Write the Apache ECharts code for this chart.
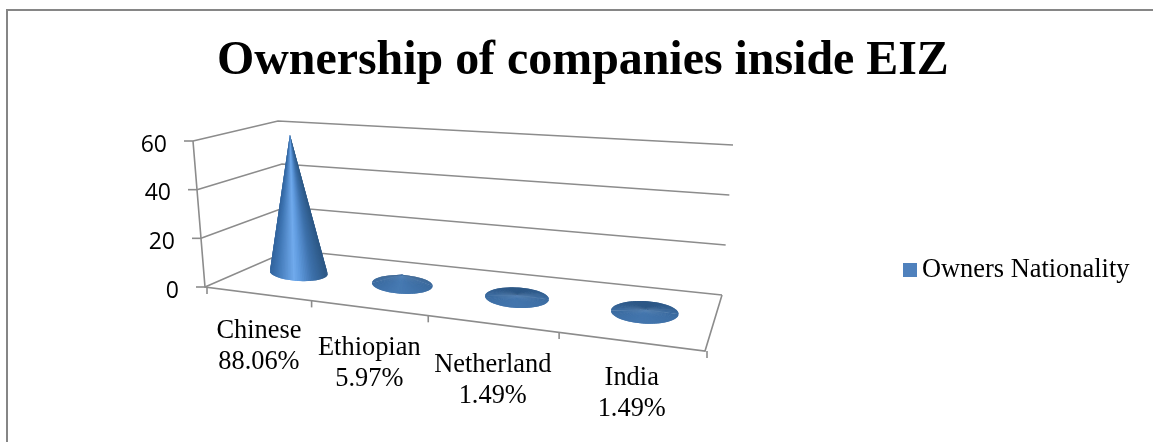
<!DOCTYPE html>
<html>
<head>
<meta charset="utf-8">
<title>Ownership of companies inside EIZ</title>
<script src="https://cdn.jsdelivr.net/npm/echarts@6/dist/echarts.min.js"></script>
<style>
  html, body { margin: 0; padding: 0; background: #fff; }
  #chart { width: 1153px; height: 442px; }
</style>
</head>
<body>
<div id="chart"></div>
<script>
// Chart content
const chartTitle = 'Ownership of companies inside EIZ';
const seriesName = 'Owners Nationality';
const categories = ['Chinese', 'Ethiopian', 'Netherland', 'India'];
const ownerCounts = [59, 4, 1, 1];
const companyTotal = 67;
const yTicks = [0, 20, 40, 60];

// Plot box of the flat cartesian grid, which the 3D view below is built on
const plot = { left: 205, top: 141, width: 500, height: 146 };

// 3D view: floor corners on screen, and the rise of the full value range at each corner
const floor = { fl: [205, 287], fr: [705, 351], br: [722, 295], bl: [290, 250] };
const rise = { fl: [-12, -146], fr: [12, -170], br: [11, -150], bl: [-12, -129] };
const coneDepth = 0.5;
const coneRadius = 30.5;
const coneTilt = 0.05;
const lineColor = '#8c8c8c';
const lineWidth = 1.6;
const serif = '"Liberation Serif", "Times New Roman", serif';

// Vertical nudge of each two-line category label
const labelDrop = [53, 56, 57, 52];

// Square-to-quad homography for the floor plane
const floorMap = (function () {
  const { fl, fr, br, bl } = floor;
  const dx1 = fr[0] - br[0], dx2 = bl[0] - br[0], sx = fl[0] - fr[0] + br[0] - bl[0];
  const dy1 = fr[1] - br[1], dy2 = bl[1] - br[1], sy = fl[1] - fr[1] + br[1] - bl[1];
  const den = dx1 * dy2 - dx2 * dy1;
  const g = (sx * dy2 - dx2 * sy) / den;
  const h = (dx1 * sy - sx * dy1) / den;
  return {
    g, h,
    ax: fr[0] - fl[0] + g * fr[0], bx: bl[0] - fl[0] + h * bl[0], cx: fl[0],
    ay: fr[1] - fl[1] + g * fr[1], by: bl[1] - fl[1] + h * bl[1], cy: fl[1]
  };
})();

function lerp(a, b, k) { return a + (b - a) * k; }

// u: across the categories, w: floor depth, t: share of the value range
function project(u, w, t) {
  const m = floorMap;
  const d = m.g * u + m.h * w + 1;
  const x = (m.ax * u + m.bx * w + m.cx) / d;
  const y = (m.ay * u + m.by * w + m.cy) / d;
  const rx = lerp(lerp(rise.fl[0], rise.fr[0], u), lerp(rise.bl[0], rise.br[0], u), w);
  const ry = lerp(lerp(rise.fl[1], rise.fr[1], u), lerp(rise.bl[1], rise.br[1], u), w);
  return [x + rx * t, y + ry * t];
}

// Turn a pixel of the flat grid into the view's u and t
function viewOf(pixel, sys) {
  return { u: (pixel[0] - sys.x) / sys.width, t: (sys.y + sys.height - pixel[1]) / sys.height };
}

function hexToRgb(h) {
  const n = parseInt(h.slice(1), 16);
  return [(n >> 16) & 255, (n >> 8) & 255, n & 255];
}

function rampColor(stops, p) {
  for (let i = 1; i < stops.length; i++) {
    if (p <= stops[i][0]) {
      const k = (p - stops[i - 1][0]) / (stops[i][0] - stops[i - 1][0]);
      const a = hexToRgb(stops[i - 1][1]), b = hexToRgb(stops[i][1]);
      return a.map((c, j) => lerp(c, b[j], k));
    }
  }
  return hexToRgb(stops[stops.length - 1][1]);
}

const tallRamp = [[0, '#32649d'], [0.12, '#3f75b3'], [0.42, '#70aaec'], [0.52, '#5f9ade'], [0.75, '#3d70aa'], [1, '#2c5784']];
const flatRamp = [[0, '#2b5583'], [0.45, '#3a6a9f'], [1, '#4274ab']];

function wedgeColor(theta, steep) {
  const tall = rampColor(tallRamp, (Math.cos(theta) + 1) / 2);
  const flat = rampColor(flatRamp, (Math.sin(theta) + 1) / 2);
  const c = flat.map((v, j) => Math.round(lerp(v, tall[j], steep)));
  return 'rgb(' + c.join(',') + ')';
}

// Cone: a fan of wedges from the apex round the base ellipse. The back half is
// painted first; each wedge runs under the next so no seams show between them.
function renderCone(params, api) {
  const sys = params.coordSys;
  const v = viewOf(api.coord([api.value(0), api.value(1)]), sys);
  const base = project(v.u, coneDepth, 0);
  const apex = project(v.u, coneDepth, v.t);
  const scale = 1 / (floorMap.g * v.u + floorMap.h * coneDepth + 1);
  const rx = coneRadius * scale;
  const ry = rx * (0.285 + 0.055 * v.u);
  const steep = Math.min(1, v.t * 1.6);
  const half = 48;
  const step = Math.PI / half;
  const rim = a => {
    const ox = rx * Math.cos(a);
    return [base[0] + ox, base[1] + ry * Math.sin(a) + ox * coneTilt];
  };
  const children = [];
  [Math.PI, 0].forEach(start => {
    for (let i = 0; i < half; i++) {
      const a0 = start + i * step;
      const a1 = start + Math.min(i + 2, half) * step;
      children.push({
        type: 'polygon',
        shape: { points: [apex, rim(a0), rim(a1)] },
        style: { fill: wedgeColor(a0 + step / 2, steep) }
      });
    }
  });
  return { type: 'group', children };
}

// One value level: wall lines plus the stub on the value axis
function renderLevel(params, api) {
  const sys = params.coordSys;
  const t = viewOf(api.coord([0, api.value(1)]), sys).t;
  const frontLeft = project(0, 0, t);
  return {
    type: 'group',
    children: [{
      type: 'polyline',
      shape: { points: [frontLeft, project(0, 1, t), project(1, 1, t)] },
      style: { fill: null, stroke: lineColor, lineWidth }
    }, {
      type: 'line',
      shape: { x1: frontLeft[0] - 9, y1: frontLeft[1], x2: frontLeft[0], y2: frontLeft[1] },
      style: { stroke: lineColor, lineWidth }
    }]
  };
}

// Value axis line and the floor's front and right edges
function renderFloorEdges() {
  return {
    type: 'polyline',
    shape: { points: [project(0, 0, 1), project(0, 0, 0), project(1, 0, 0), project(1, 1, 0)] },
    style: { fill: null, stroke: lineColor, lineWidth }
  };
}

// Category boundary ticks hanging off the front edge of the floor
function renderBoundaryTick(params, api) {
  const p = project(api.value(0) / categories.length, 0, 0);
  return {
    type: 'line',
    shape: { x1: p[0] + 2, y1: p[1], x2: p[0] + 2, y2: p[1] + 7 },
    style: { stroke: lineColor, lineWidth }
  };
}

// Two-line category label below the front edge of the floor
function renderCategoryLabel(params, api) {
  const i = api.value(0);
  const u = viewOf(api.coord([i, 0]), params.coordSys).u;
  const p = project(u, 0, 0);
  const share = (api.value(1) / companyTotal * 100).toFixed(2) + '%';
  return {
    type: 'text',
    style: {
      x: p[0] + 3,
      y: p[1] + labelDrop[i],
      text: categories[i] + '\n' + share,
      align: 'center',
      verticalAlign: 'middle',
      font: '26.4px ' + serif,
      lineHeight: 31,
      fill: '#000'
    }
  };
}

const yLabelRich = {};
yTicks.forEach(v => {
  yLabelRich['t' + v] = {
    fontFamily: '"Open Sans"',
    fontSize: 23,
    color: '#000',
    padding: [8, (v / 20) * 4, 0, 0]
  };
});

const chart = echarts.init(document.getElementById('chart'), null, { renderer: 'canvas' });
chart.setOption({
  animation: false,
  backgroundColor: '#fff',
  title: {
    text: chartTitle,
    left: 212,
    top: 33,
    textStyle: { fontFamily: serif, fontWeight: 'bold', fontSize: 47.9, color: '#000' }
  },
  legend: {
    left: 898,
    top: 252,
    data: [{ name: seriesName, icon: 'rect', itemStyle: { color: '#4f81bd' } }],
    itemWidth: 14,
    itemHeight: 14,
    selectedMode: false,
    textStyle: { fontFamily: serif, fontSize: 26.4, color: '#000', padding: [6, 0, 0, 0] }
  },
  grid: plot,
  xAxis: {
    type: 'category',
    data: categories,
    axisLine: { show: false },
    axisTick: { show: false },
    axisLabel: { show: false },
    splitLine: { show: false }
  },
  yAxis: {
    type: 'value',
    min: 0,
    max: 60,
    interval: 20,
    axisLine: { show: false },
    axisTick: { show: false },
    splitLine: { show: false },
    axisLabel: { margin: 26, formatter: v => '{t' + v + '|' + v + '}', rich: yLabelRich }
  },
  graphic: [{
    type: 'polyline',
    silent: true,
    shape: { points: [[7, 442], [7, 10], [1153, 10]] },
    style: { fill: null, stroke: '#868686', lineWidth: 2 }
  }],
  series: [
    {
      type: 'custom', name: 'levels', silent: true, z: 1,
      data: yTicks.map(v => [0, v]), encode: { x: 0, y: 1 }, renderItem: renderLevel
    },
    {
      type: 'custom', name: 'floor', silent: true, z: 1,
      data: [[0, 0]], encode: { x: 0, y: 1 }, renderItem: renderFloorEdges
    },
    {
      type: 'custom', name: 'boundaries', silent: true, z: 1,
      data: [0, 1, 2, 3, 4].map(i => [i]), encode: { x: 0 }, renderItem: renderBoundaryTick
    },
    {
      type: 'custom', name: seriesName, z: 2,
      itemStyle: { color: '#4f81bd' },
      data: ownerCounts.map((v, i) => [i, v]), encode: { x: 0, y: 1 }, renderItem: renderCone
    },
    {
      type: 'custom', name: 'category labels', silent: true, z: 3,
      data: ownerCounts.map((v, i) => [i, v]), encode: { x: 0, y: 1 }, renderItem: renderCategoryLabel
    }
  ]
});
</script>
</body>
</html>
